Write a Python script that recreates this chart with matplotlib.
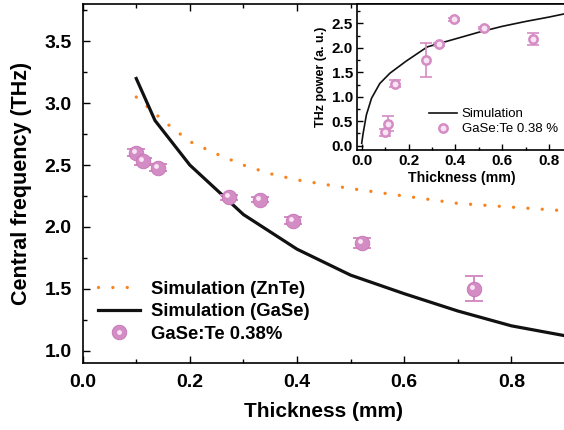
import matplotlib
matplotlib.use("Agg")
import matplotlib.pyplot as plt
from matplotlib.ticker import MultipleLocator
from matplotlib.transforms import ScaledTranslation
from matplotlib.legend_handler import HandlerTuple
from matplotlib.lines import Line2D

plt.rcParams['font.family'] = ['Liberation Sans', 'DejaVu Sans']

# ---- main chart data ----
znte_x = [0.1, 0.15, 0.2, 0.25, 0.3, 0.35, 0.4, 0.5, 0.6, 0.7, 0.8, 0.9]
znte_y = [3.05, 2.86, 2.69, 2.59, 2.5, 2.43, 2.38, 2.31, 2.25, 2.19, 2.16, 2.13]
gase_x = [0.1, 0.135, 0.2, 0.3, 0.4, 0.5, 0.6, 0.7, 0.8, 0.9]
gase_y = [3.2, 2.86, 2.5, 2.1, 1.82, 1.61, 1.46, 1.32, 1.2, 1.12]
meas_x = [0.1, 0.112, 0.141, 0.273, 0.331, 0.393, 0.521, 0.73]
meas_y = [2.6, 2.53, 2.48, 2.24, 2.22, 2.05, 1.87, 1.5]
meas_err = [0.03, 0.03, 0.03, 0.02, 0.02, 0.03, 0.04, 0.1]

# ---- inset data ----
sim_px = [0.0, 0.006, 0.02, 0.042, 0.077, 0.12, 0.19, 0.28, 0.39, 0.5, 0.6, 0.7, 0.8, 0.87]
sim_py = [0.05, 0.25, 0.63, 0.97, 1.27, 1.48, 1.73, 2.02, 2.17, 2.32, 2.44, 2.54, 2.63, 2.70]
pow_x = [0.1, 0.112, 0.141, 0.273, 0.331, 0.393, 0.521, 0.73]
pow_y = [0.27, 0.45, 1.27, 1.75, 2.07, 2.58, 2.41, 2.18]
pow_err = [0.08, 0.16, 0.08, 0.34, 0.03, 0.03, 0.02, 0.13]

pink = '#D48CC4'
pink_edge = '#C474B6'
hl = '#F8E4F3'
orange = '#F7841F'

fig = plt.figure(figsize=(5.64, 4.30), dpi=100)
ax = fig.add_axes([0.1466, 0.156, 0.855, 0.834])

ax.plot(znte_x, znte_y, color=orange, lw=2.4, linestyle=(0, (0.01, 4.3)),
        dash_capstyle='round', label='Simulation (ZnTe)')
ax.plot(gase_x, gase_y, color='#111111', lw=2.3, label='Simulation (GaSe)')
ax.errorbar(meas_x, meas_y, yerr=meas_err, fmt='none', ecolor=pink,
            elinewidth=1.4, capsize=6.5, capthick=1.4, zorder=3)
ax.plot(meas_x, meas_y, 'o', ms=10.5, color=pink, mec=pink_edge, mew=0.6, zorder=4)
off = ScaledTranslation(-2/100, 2/100, fig.dpi_scale_trans)
ax.plot(meas_x, meas_y, 'o', ms=3.5, color=hl, mec='none', zorder=5,
        transform=ax.transData + off)

ax.set_xlim(0, 0.9)
ax.set_ylim(0.9, 3.8)
ax.xaxis.set_major_locator(MultipleLocator(0.2))
ax.xaxis.set_minor_locator(MultipleLocator(0.1))
ax.yaxis.set_major_locator(MultipleLocator(0.5))
ax.yaxis.set_minor_locator(MultipleLocator(0.25))
ax.tick_params(which='both', direction='in', top=True, labelsize=14, width=1)
ax.tick_params(axis='x', pad=8)
ax.tick_params(axis='y', pad=8)
ax.tick_params(which='major', length=5)
ax.tick_params(which='minor', length=3)
for lab in ax.get_xticklabels() + ax.get_yticklabels():
    lab.set_fontweight('bold')
for s in ax.spines.values():
    s.set_linewidth(1.2)
ax.set_xlabel('Thickness (mm)', fontsize=15, fontweight='bold', labelpad=8)
ax.set_ylabel('Central frequency (THz)', fontsize=15.5, fontweight='bold', labelpad=9)

h_z = Line2D([], [], color=orange, lw=2.4, linestyle=(0, (0.01, 4.3)), dash_capstyle='round')
h_g = Line2D([], [], color='#111111', lw=2.3)
h_m1 = Line2D([], [], marker='o', ms=10.5, color=pink, mec=pink_edge, mew=0.6, ls='none')
h_m2 = Line2D([], [], marker='o', ms=3.5, color=hl, mec='none', ls='none')
leg = ax.legend([h_z, h_g, (h_m1, h_m2)],
                ['Simulation (ZnTe)', 'Simulation (GaSe)', 'GaSe:Te 0.38%'],
                handler_map={tuple: HandlerTuple(ndivide=1, pad=0)},
                loc='lower left', bbox_to_anchor=(0.016, 0.036), frameon=False,
                prop={'weight': 'bold', 'size': 13.3}, handlelength=2.27,
                handletextpad=0.6, labelspacing=0.3, borderaxespad=0)

# ---- inset ----
axi = fig.add_axes([0.633, 0.651, 0.37, 0.339])
axi.set_facecolor('white')
axi.plot(sim_px, sim_py, color='#111111', lw=1.2, label='Simulation')
axi.errorbar(pow_x, pow_y, yerr=pow_err, fmt='none', ecolor=pink,
             elinewidth=1.2, capsize=4, capthick=1.2, zorder=3)
axi.plot(pow_x, pow_y, 'o', ms=6, mfc=hl, mec=pink, mew=1.8, zorder=4,
         label='GaSe:Te 0.38 %')
axi.set_xlim(-0.02, 0.87)
axi.set_ylim(-0.09, 2.89)
axi.xaxis.set_major_locator(MultipleLocator(0.2))
axi.xaxis.set_minor_locator(MultipleLocator(0.1))
axi.yaxis.set_major_locator(MultipleLocator(0.5))
axi.yaxis.set_minor_locator(MultipleLocator(0.25))
axi.tick_params(which='both', direction='in', labelsize=11, width=1, pad=3)
axi.tick_params(which='major', length=4)
axi.tick_params(which='minor', length=2)
for lab in axi.get_xticklabels() + axi.get_yticklabels():
    lab.set_fontweight('bold')
for s in axi.spines.values():
    s.set_linewidth(1.2)
axi.set_xlabel('Thickness (mm)', fontsize=10.2, fontweight='bold', labelpad=2)
axi.set_ylabel('THz power (a. u.)', fontsize=9, fontweight='bold', labelpad=3)
axi.legend(loc='lower right', bbox_to_anchor=(1.02, 0.02), frameon=False,
           prop={'size': 9.5}, handlelength=2.1, handletextpad=0.4,
           labelspacing=0.2)

fig.savefig('out.png', dpi=100)
